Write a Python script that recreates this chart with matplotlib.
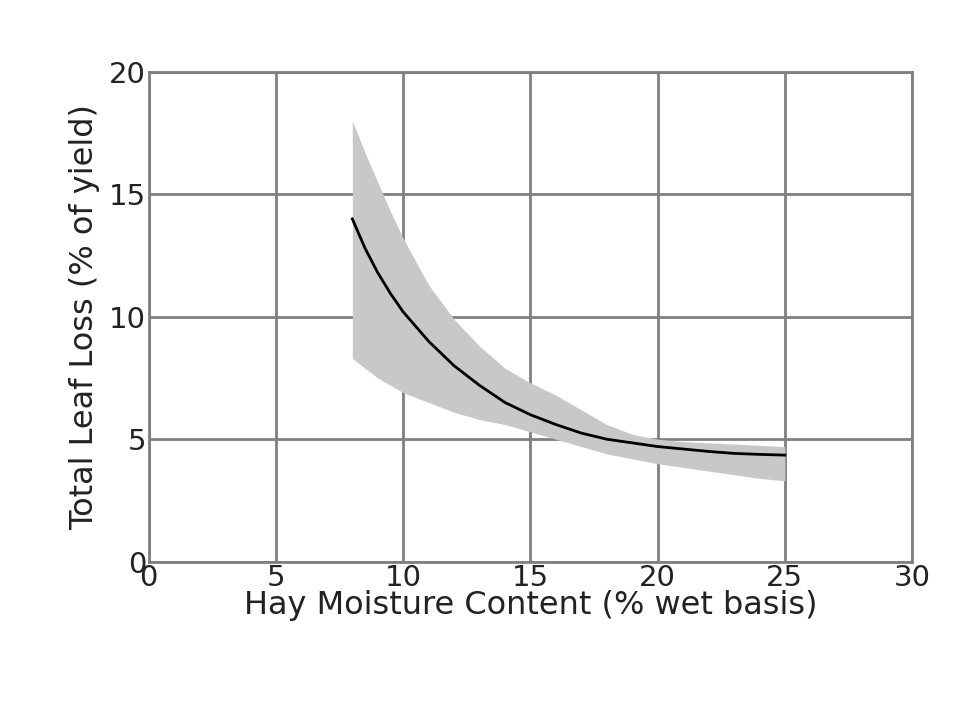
import matplotlib
matplotlib.use("Agg")
import matplotlib.pyplot as plt

x = [8, 8.5, 9, 9.5, 10, 11, 12, 13, 14, 15, 16, 17, 18, 19, 20, 21, 22, 23, 24, 25]
mean = [14.0, 12.8, 11.8, 10.95, 10.2, 9.0, 8.0, 7.2, 6.5, 6.0, 5.6, 5.25, 5.0, 4.85, 4.7, 4.6, 4.5, 4.42, 4.38, 4.35]
upper = [18.0, 16.7, 15.5, 14.3, 13.2, 11.3, 9.9, 8.8, 7.9, 7.3, 6.8, 6.2, 5.6, 5.2, 5.0, 4.9, 4.85, 4.8, 4.75, 4.7]
lower = [8.3, 7.9, 7.5, 7.2, 6.9, 6.5, 6.1, 5.8, 5.6, 5.3, 5.0, 4.7, 4.4, 4.2, 4.0, 3.85, 3.7, 3.55, 3.4, 3.3]

fig = plt.figure(figsize=(9.6, 7.2), dpi=100)
ax = fig.add_axes([0.155, 0.22, 0.795, 0.68])
ax.fill_between(x, lower, upper, color="#c8c8c8", lw=0, zorder=2)
ax.plot(x, mean, color="black", lw=2, zorder=3)
ax.set_xlim(0, 30)
ax.set_ylim(0, 20)
ax.set_xticks(range(0, 31, 5))
ax.set_yticks(range(0, 21, 5))
ax.grid(True, color="#808080", lw=2, zorder=1)
ax.set_axisbelow(True)
for s in ax.spines.values():
    s.set_color("#808080")
    s.set_linewidth(2)
ax.tick_params(length=0, labelsize=21, colors="#222222", pad=2)
ax.set_xlabel("Hay Moisture Content (% wet basis)", fontsize=23, labelpad=-2, color="#222222")
ax.set_ylabel("Total Leaf Loss (% of yield)", fontsize=23, labelpad=6, color="#222222")
fig.savefig("out.png")
